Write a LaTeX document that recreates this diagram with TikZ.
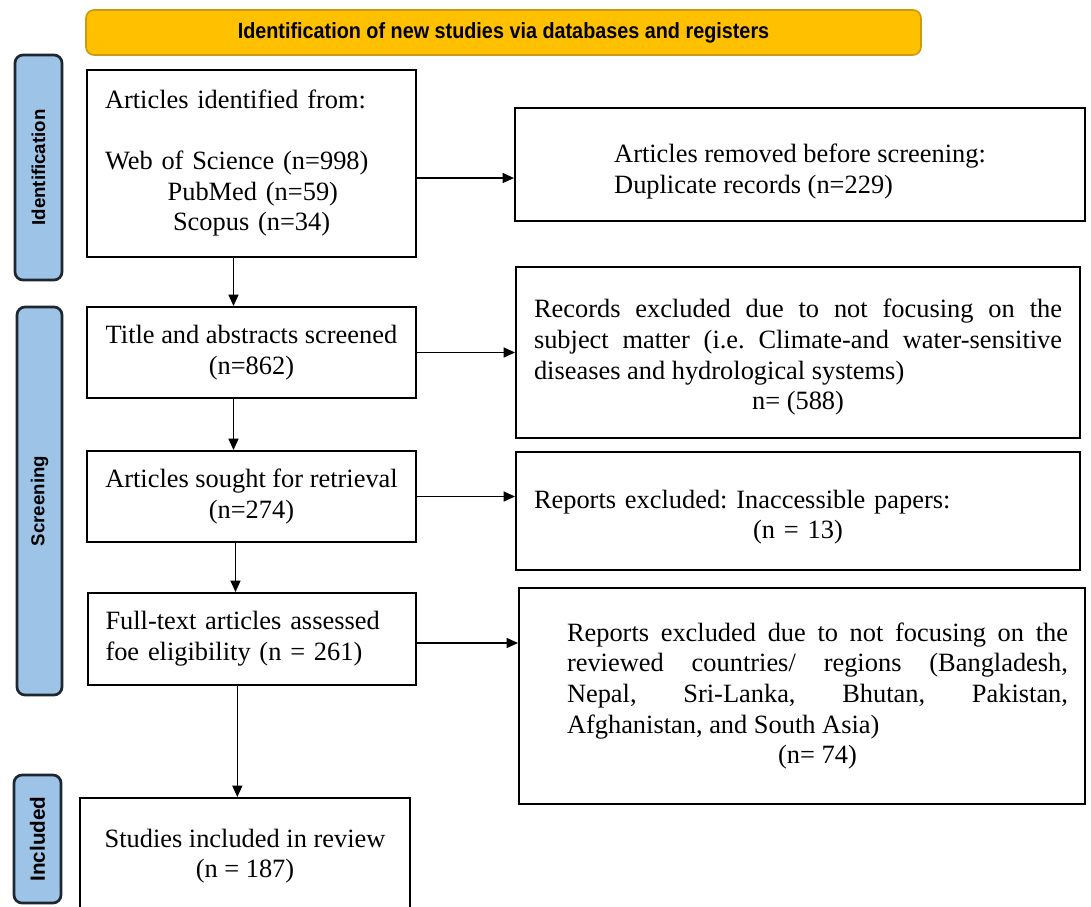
\documentclass[tikz,border=0pt]{standalone}
\usepackage{fontspec}
\setmainfont{Liberation Serif}
\newfontfamily\labelfont{Liberation Sans}
\usetikzlibrary{arrows.meta}
\definecolor{hdrfill}{HTML}{FFC000}
\definecolor{hdrdraw}{HTML}{C89B10}
\definecolor{sidefill}{HTML}{9DC3E6}
\definecolor{sidedraw}{HTML}{1E2630}
\frenchspacing
\begin{document}
\begin{tikzpicture}[x=0.75pt,y=-0.75pt,
  box/.style={draw=black,line width=1.5pt,rectangle,inner sep=0pt,
    font=\fontsize{19.8}{23}\selectfont},
  sidelabel/.style={draw=sidedraw,fill=sidefill,line width=2pt,rounded corners=6pt,
    inner sep=0pt,rotate=90,font=\labelfont\bfseries\fontsize{14}{16}\selectfont},
  flow/.style={line width=0.9pt,-{Triangle[length=8.5pt,width=7.5pt]}}]
\clip (0,0) rectangle (1091,906);
\fill[white] (0,0) rectangle (1091,906);

% header
\node[draw=hdrdraw,fill=hdrfill,line width=1.2pt,rounded corners=6pt,inner sep=0pt,
  minimum width=626.25pt,minimum height=33.75pt,
  font=\labelfont\bfseries\fontsize{16.5}{18}\selectfont] (hdr) at (503.5,32.5)
  {\scalebox{0.9}[1]{Identification of new studies via databases and registers}};

% side labels
\node[sidelabel,minimum width=168.75pt,minimum height=35.25pt] (lid) at (38.5,167.5) {Identification};
\node[sidelabel,minimum width=291pt,minimum height=33.75pt] (lsc) at (39.5,501) {Screening};
\node[sidelabel,minimum width=96pt,minimum height=35.25pt,
  font=\labelfont\bfseries\fontsize{15.5}{17}\selectfont] (lin) at (37.5,839) {Included};

% boxes
\node[box,minimum width=246.75pt,minimum height=140.25pt,text width=219.75pt,align=left]
  (A) at (251.5,163.5)
  {Articles identified from:\\[22.5pt]
   Web of Science (n=998)\\
   \hspace*{47pt}PubMed (n=59)\\
   \hspace*{51pt}Scopus (n=34)};

\node[box,minimum width=427.5pt,minimum height=84.75pt,align=left]
  (B) at (800,164.5)
  {\rule{0pt}{24pt}Articles removed before screening:\\
   Duplicate records (n=229)};

\node[box,minimum width=246.75pt,minimum height=68.25pt,align=center]
  (C) at (251.5,352.5)
  {Title and abstracts screened\\(n=862)};

\node[box,minimum width=423pt,minimum height=128.25pt,text width=396pt,align=justify]
  (D) at (798,352.5)
  {\rule{0pt}{21pt}Records excluded due to not focusing on the\linebreak
   subject matter (i.e. Climate-and water-sensitive\linebreak
   diseases and hydrological systems)\par
   {\centering n= (588)\par}};

\node[box,minimum width=246.75pt,minimum height=68.25pt,align=center]
  (E) at (251.5,496.5)
  {Articles sought for retrieval\\(n=274)};

\node[box,minimum width=423pt,minimum height=88.5pt,text width=396pt,align=left]
  (F) at (798,511)
  {\rule{0pt}{23pt}Reports excluded: Inaccessible papers:\par
   {\centering (n = 13)\par}};

\node[box,minimum width=246pt,minimum height=69pt,text width=219.75pt,align=left]
  (G) at (252,639)
  {Full-text articles assessed\\foe eligibility (n = 261)};

\node[box,minimum width=424.5pt,minimum height=162pt,text width=399pt,align=justify]
  (H) at (802,696)
  {\leftskip=23.25pt
   Reports excluded due to not focusing on the\linebreak
   reviewed countries/ regions (Bangladesh,\linebreak
   Nepal, Sri-Lanka, Bhutan, Pakistan,\linebreak
   Afghanistan, and South Asia)\par
   {\centering\leftskip=23.25pt plus 1fil (n= 74)\par}};

\node[box,minimum width=247.5pt,minimum height=87pt,align=center]
  (I) at (245,856)
  {Studies included in review\\(n = 187)};

% connectors
\draw[flow] ([yshift=-10.9pt]A.east) -- ([yshift=-10.9pt]A.east -| B.west);
\draw[flow] ([xshift=-13.5pt]A.south) -- ([xshift=-13.5pt]A.south |- C.north);
\draw[flow] (C.east) -- (C.east -| D.west);
\draw[flow] ([xshift=-13.5pt]C.south) -- ([xshift=-13.5pt]C.south |- E.north);
\draw[flow] (E.east) -- (E.east -| F.west);
\draw[flow] ([xshift=-12pt]E.south) -- ([xshift=-12pt]E.south |- G.north);
\draw[flow] ([yshift=-3pt]G.east) -- ([yshift=-3pt]G.east -| H.west);
\draw[flow] ([xshift=-11pt]G.south) -- ([xshift=-11pt]G.south |- I.north);
\end{tikzpicture}
\end{document}
